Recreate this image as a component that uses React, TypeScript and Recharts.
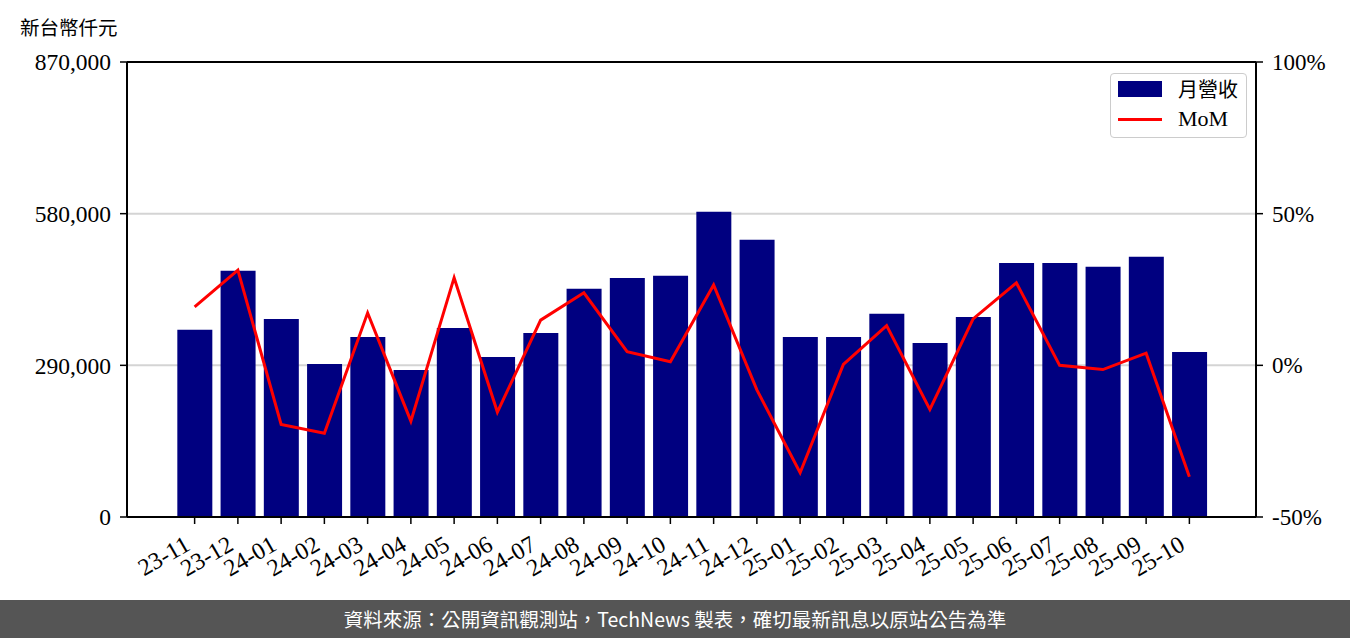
import { ComposedChart, Bar, Line, XAxis, YAxis, CartesianGrid, ReferenceLine } from "recharts";

const months = [
  "23-11", "23-12", "24-01", "24-02", "24-03", "24-04", "24-05", "24-06",
  "24-07", "24-08", "24-09", "24-10", "24-11", "24-12", "25-01", "25-02",
  "25-03", "25-04", "25-05", "25-06", "25-07", "25-08", "25-09", "25-10",
];
const revenue = [
  357800, 470700, 378800, 292700, 344400, 281200, 361600, 306100,
  352000, 436200, 457200, 461100, 583500, 529900, 344400, 344400,
  388400, 332900, 382600, 485900, 485900, 478300, 497400, 315700,
];
const mom = [
  19.3, 31.4, -19.5, -22.4, 17.3, -18.4, 28.9, -15.4,
  14.9, 23.9, 4.5, 1.2, 26.5, -8.1, -35.4, 0.3,
  13.1, -14.5, 15.3, 27.2, 0.0, -1.4, 4.0, -36.7,
];
const leftTicks = [0, 290000, 580000, 870000];
const rightTicks = [-50, 0, 50, 100];

const data = months.map((m, i) => ({ month: m, revenue: revenue[i], mom: mom[i] }));

const serif = "'Liberation Serif', 'Noto Sans CJK TC', serif";
const cjk = "'Noto Sans CJK TC', sans-serif";

const MonthTick = ({ x, y, payload }: any) => (
  <g transform={`translate(${x - 3},${y + 23}) rotate(-30)`}>
    <text x={0} y={0} textAnchor="end" fill="#000" fontSize={24} fontFamily={serif}>
      {payload.value}
    </text>
  </g>
);

// legend drawn as an overlay so it doesn't eat into the plot area
const LegendBox = () => (
  <div
    style={{
      position: "absolute",
      left: 1110,
      top: 73,
      width: 135,
      height: 63,
      border: "1px solid #cccccc",
      borderRadius: 4,
      background: "rgba(255,255,255,0.85)",
    }}
  >
    <div style={{ position: "absolute", left: 7, top: 7, width: 44, height: 16, background: "#000080" }} />
    <div style={{ position: "absolute", left: 67, top: 2, fontSize: 20, fontFamily: cjk, color: "#000", lineHeight: "26px" }}>
      月營收
    </div>
    <div style={{ position: "absolute", left: 7, top: 44, width: 44, height: 3, background: "#ff0000" }} />
    <div style={{ position: "absolute", left: 67, top: 31, fontSize: 22, fontFamily: serif, color: "#000", lineHeight: "28px" }}>
      MoM
    </div>
  </div>
);

export default function App() {
  return (
    <div style={{ position: "relative", width: 1350, height: 638, background: "#fff", overflow: "hidden" }}>
      <style>{`body{margin:0}`}</style>
      <div style={{ position: "absolute", left: 20, top: 13, fontSize: 19.5, fontFamily: cjk, color: "#000", lineHeight: "28px" }}>
        新台幣仟元
      </div>
      <ComposedChart
        width={1350}
        height={600}
        data={data}
        margin={{ top: 62, right: 0, bottom: 0, left: 0 }}
        barCategoryGap="10%"
      >
        <CartesianGrid yAxisId="left" vertical={false} stroke="#d4d4d4" strokeWidth={2} />
        <XAxis
          dataKey="month"
          interval={0}
          height={83}
          padding={{ left: 46, right: 45 }}
          tickSize={7}
          tickLine={{ stroke: "#000", strokeWidth: 1.5 }}
          axisLine={{ stroke: "#000", strokeWidth: 2 }}
          tick={<MonthTick />}
        />
        <YAxis
          yAxisId="left"
          width={127}
          domain={[0, 870000]}
          ticks={leftTicks}
          tickSize={7}
          tickMargin={9}
          tickFormatter={(v: number) => v.toLocaleString("en-US")}
          tickLine={{ stroke: "#000", strokeWidth: 1.5 }}
          axisLine={{ stroke: "#000", strokeWidth: 2 }}
          tick={{ fill: "#000", fontSize: 23.5, fontFamily: serif }}
        />
        <YAxis
          yAxisId="right"
          orientation="right"
          width={94}
          domain={[-50, 100]}
          ticks={rightTicks}
          tickSize={7}
          tickMargin={9}
          tickFormatter={(v: number) => `${v}%`}
          tickLine={{ stroke: "#000", strokeWidth: 1.5 }}
          axisLine={{ stroke: "#000", strokeWidth: 2 }}
          tick={{ fill: "#000", fontSize: 23, fontFamily: serif, textAnchor: "start" }}
        />
        <ReferenceLine yAxisId="left" y={870000} stroke="#000" strokeWidth={2} />
        <Bar yAxisId="left" dataKey="revenue" name="月營收" fill="#000080" isAnimationActive={false} />
        <Line
          yAxisId="right"
          dataKey="mom"
          name="MoM"
          type="linear"
          stroke="#ff0000"
          strokeWidth={3}
          dot={false}
          activeDot={false}
          isAnimationActive={false}
        />
      </ComposedChart>
      <LegendBox />
      <div
        style={{
          position: "absolute",
          left: 0,
          top: 600,
          width: 1350,
          height: 38,
          background: "#555555",
          color: "#fff",
          fontSize: 19.5,
          fontFamily: cjk,
          lineHeight: "38px",
          textAlign: "center",
        }}
      >
        資料來源：公開資訊觀測站，TechNews 製表，確切最新訊息以原站公告為準
      </div>
    </div>
  );
}
